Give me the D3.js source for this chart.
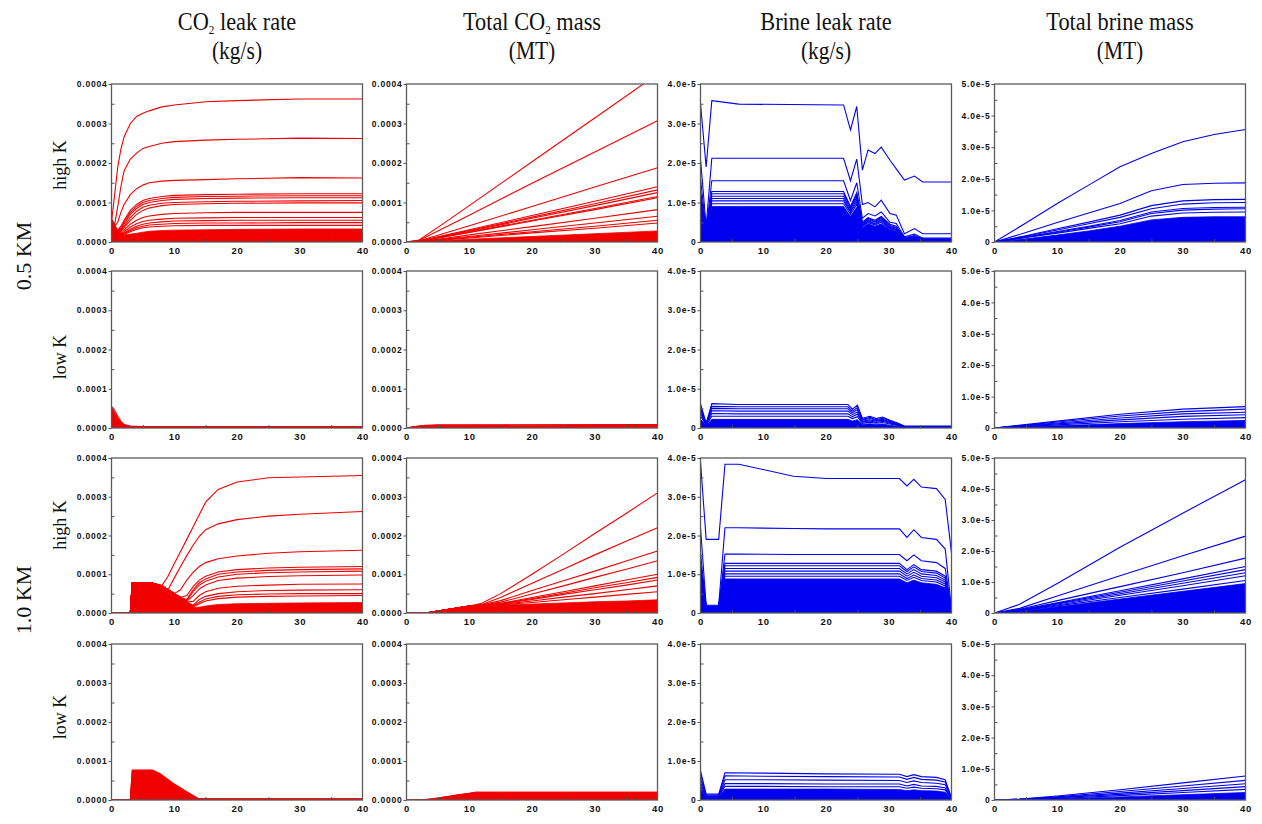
<!DOCTYPE html>
<html><head><meta charset="utf-8">
<script src="https://cdn.jsdelivr.net/npm/d3@7"></script>
<style>body{margin:0;background:#fff}</style>
</head><body><svg id="c" width="1262" height="824"></svg>
<script>
// ---------- labels ----------
const colTitles = [["CO","2"," leak rate"],["Total CO","2"," mass"],["Brine leak rate","",""],["Total brine mass","",""]];
const colUnits = ["(kg/s)","(MT)","(kg/s)","(MT)"];
const depthLabels = ["0.5 KM","1.0 KM"];
const permLabels = ["high K","low K","high K","low K"];
const xTicks = [0,10,20,30,40];
const xTickLabels = ["0","10","20","30","40"];
// values stored in units of 1e-4 (CO2) and 1e-5 (brine)
const yTicksCO2 = ["0.0000","0.0001","0.0002","0.0003","0.0004"];
const yTicksBrineRate = ["0","1.0e-5","2.0e-5","3.0e-5","4.0e-5"];
const yTicksBrineMass = ["0","1.0e-5","2.0e-5","3.0e-5","4.0e-5","5.0e-5"];

// ---------- row 1: 0.5 KM high K ----------
const tA = [0,0.5,1,1.5,2,3,4,5,6,8,10,15,20,30,40];
const linesA = [
 [0.5,1.2,1.9,2.35,2.66,3.0,3.18,3.26,3.32,3.42,3.47,3.55,3.58,3.62,3.62],
 [0.5,0.45,0.9,1.4,1.8,2.1,2.25,2.37,2.42,2.5,2.54,2.58,2.6,2.63,2.62],
 [0.5,0.4,0.5,0.75,0.95,1.2,1.35,1.44,1.5,1.54,1.56,1.58,1.6,1.63,1.62],
 [0.5,0.35,0.3,0.4,0.55,0.8,0.95,1.05,1.1,1.15,1.18,1.2,1.21,1.22,1.22],
 [0.5,0.35,0.28,0.35,0.5,0.75,0.9,1.0,1.05,1.1,1.13,1.15,1.16,1.17,1.17],
 [0.5,0.33,0.26,0.32,0.45,0.7,0.85,0.95,1.0,1.05,1.08,1.1,1.11,1.12,1.12],
 [0.5,0.32,0.25,0.3,0.4,0.62,0.78,0.88,0.93,0.98,1.0,1.02,1.03,1.04,1.05],
 [0.5,0.3,0.24,0.28,0.36,0.55,0.7,0.8,0.86,0.92,0.95,0.97,0.98,0.99,0.99],
 [0.5,0.3,0.22,0.25,0.3,0.45,0.55,0.62,0.66,0.7,0.72,0.74,0.75,0.75,0.75],
 [0.5,0.28,0.2,0.22,0.26,0.38,0.46,0.52,0.55,0.58,0.6,0.61,0.62,0.62,0.62],
 [0.5,0.27,0.19,0.2,0.23,0.32,0.4,0.45,0.48,0.51,0.53,0.54,0.55,0.55,0.55],
 [0.5,0.26,0.18,0.19,0.21,0.29,0.36,0.4,0.43,0.45,0.47,0.48,0.48,0.49,0.49],
 [0.5,0.25,0.17,0.18,0.2,0.26,0.32,0.36,0.38,0.4,0.41,0.42,0.42,0.42,0.42]
];
const bandA = [0.6,0.45,0.3,0.22,0.18,0.2,0.22,0.25,0.27,0.29,0.3,0.31,0.32,0.33,0.33];

const tB = [0,2,5,10,20,30,40];
const linesB = [
 [0,0.05,0.37,0.92,2.03,3.14,4.25],
 [0,0.04,0.28,0.68,1.49,2.28,3.07],
 [0,0.03,0.17,0.41,0.9,1.39,1.88],
 [0,0.02,0.13,0.31,0.67,1.03,1.4],
 [0,0.02,0.12,0.29,0.63,0.97,1.32],
 [0,0.02,0.11,0.27,0.6,0.92,1.25],
 [0,0.02,0.1,0.25,0.55,0.85,1.15],
 [0,0.02,0.1,0.24,0.53,0.82,1.12],
 [0,0.01,0.07,0.18,0.39,0.6,0.82],
 [0,0.01,0.06,0.14,0.31,0.48,0.65],
 [0,0.01,0.05,0.12,0.26,0.4,0.55],
 [0,0.01,0.04,0.1,0.23,0.35,0.48]
];
const bandB = [0,0.01,0.03,0.07,0.14,0.21,0.28];

const tC = [0,0.9,1.8,6.1,22.8,23.9,24.9,25.8,26.7,27.8,28.8,30.2,31.2,32.5,34.1,35.4,40];
const linesC = [
 [3.5,1.9,3.58,3.49,3.47,2.84,3.43,1.82,2.33,2.24,2.4,2.07,1.85,1.57,1.67,1.52,1.52],
 [2.1,0.4,2.12,2.12,2.12,1.55,2.1,0.95,1.0,0.89,1.06,0.72,0.68,0.21,0.34,0.21,0.21],
 [1.6,0.3,1.55,1.55,1.55,1.05,1.5,0.6,0.72,0.66,0.76,0.5,0.47,0.13,0.2,0.1,0.1],
 [1.3,0.25,1.28,1.28,1.28,0.9,1.25,0.5,0.62,0.55,0.65,0.45,0.4,0.1,0.16,0.08,0.08],
 [1.24,0.23,1.22,1.22,1.22,0.87,1.2,0.47,0.6,0.52,0.62,0.42,0.37,0.09,0.15,0.07,0.07],
 [1.18,0.22,1.16,1.16,1.16,0.83,1.14,0.45,0.57,0.5,0.59,0.4,0.35,0.08,0.14,0.07,0.07],
 [1.1,0.2,1.1,1.1,1.1,0.78,1.08,0.42,0.54,0.47,0.56,0.37,0.32,0.07,0.12,0.06,0.06],
 [1.04,0.19,1.04,1.04,1.04,0.75,1.02,0.41,0.52,0.45,0.54,0.35,0.31,0.06,0.11,0.05,0.05],
 [0.97,0.18,0.97,0.97,0.97,0.7,0.95,0.39,0.49,0.43,0.5,0.33,0.29,0.06,0.1,0.05,0.05]
];
const bandC = [0.9,0.15,0.9,0.9,0.9,0.65,0.88,0.36,0.46,0.4,0.46,0.31,0.27,0.05,0.09,0.04,0.04];

const tD = [0,5,10,15,20,25,30,35,40];
const linesD = [
 [0,0.6,1.22,1.8,2.38,2.8,3.17,3.4,3.56],
 [0,0.3,0.62,0.92,1.22,1.62,1.82,1.86,1.87],
 [0,0.2,0.42,0.63,0.85,1.15,1.3,1.34,1.35],
 [0,0.18,0.38,0.58,0.78,1.05,1.2,1.24,1.25],
 [0,0.16,0.33,0.5,0.68,0.95,1.06,1.09,1.1],
 [0,0.15,0.31,0.47,0.64,0.9,1.01,1.04,1.05],
 [0,0.14,0.28,0.43,0.58,0.82,0.92,0.94,0.95]
];
const bandD = [0,0.1,0.22,0.35,0.5,0.7,0.78,0.8,0.8];

// ---------- row 2: 0.5 KM low K ----------
const tE = [0,0.5,1,1.5,2,3,5,40];
const linesE = [
 [0.55,0.45,0.3,0.17,0.09,0.05,0.04,0.04],
 [0.45,0.35,0.23,0.13,0.07,0.04,0.03,0.03]
];
const bandE = [0.52,0.4,0.26,0.14,0.08,0.04,0.03,0.03];

const tF = [0,1,2,3,5,40];
const linesF = [[0,0.03,0.05,0.07,0.08,0.09]];
const bandF = [0,0.03,0.05,0.06,0.07,0.08];

const tG = [0,0.9,1.8,6,23.5,24.2,25,25.8,27,28,29,30.2,31.5,32.5,40];
const linesG = [
 [0.62,0.12,0.62,0.6,0.6,0.48,0.58,0.25,0.3,0.24,0.28,0.2,0.12,0.05,0.05],
 [0.55,0.11,0.55,0.54,0.54,0.43,0.52,0.22,0.27,0.21,0.25,0.18,0.1,0.04,0.04],
 [0.5,0.1,0.5,0.49,0.49,0.39,0.47,0.2,0.24,0.19,0.22,0.16,0.09,0.04,0.04],
 [0.44,0.09,0.44,0.43,0.43,0.34,0.41,0.17,0.21,0.17,0.2,0.14,0.08,0.03,0.03],
 [0.37,0.08,0.37,0.36,0.36,0.29,0.35,0.15,0.18,0.14,0.17,0.12,0.07,0.03,0.03],
 [0.3,0.07,0.3,0.3,0.3,0.24,0.29,0.12,0.15,0.12,0.14,0.1,0.06,0.02,0.02]
];
const bandG = [0.22,0.06,0.22,0.22,0.22,0.18,0.21,0.09,0.11,0.09,0.1,0.07,0.04,0.02,0.02];

const tH = [0,10,20,30,40];
const linesH = [
 [0,0.22,0.44,0.6,0.68],
 [0,0.19,0.38,0.52,0.6],
 [0,0.16,0.32,0.45,0.5],
 [0,0.13,0.26,0.37,0.42],
 [0,0.1,0.2,0.28,0.33]
];
const bandH = [0,0.07,0.14,0.2,0.24];

// ---------- row 3: 1.0 KM high K ----------
const tI = [0,3,3.3,6.5,8,9,10,11,12,13,14,15,17,20,25,30,40];
const linesI = [
 [0,0,0.77,0.77,0.7,0.95,1.27,1.59,1.9,2.22,2.54,2.86,3.19,3.38,3.49,3.51,3.55],
 [0,0,0.77,0.77,0.7,0.6,0.9,1.2,1.48,1.75,1.98,2.15,2.3,2.41,2.5,2.55,2.62],
 [0,0,0.77,0.77,0.7,0.6,0.5,0.6,0.85,1.05,1.2,1.3,1.4,1.47,1.54,1.58,1.62],
 [0,0,0.77,0.77,0.7,0.6,0.5,0.4,0.45,0.68,0.85,0.95,1.06,1.12,1.16,1.18,1.2],
 [0,0,0.77,0.77,0.7,0.6,0.5,0.4,0.35,0.6,0.78,0.88,1.0,1.06,1.1,1.12,1.14],
 [0,0,0.77,0.77,0.7,0.6,0.5,0.4,0.32,0.55,0.72,0.82,0.93,1.0,1.04,1.06,1.08],
 [0,0,0.77,0.77,0.7,0.6,0.5,0.4,0.3,0.45,0.62,0.72,0.84,0.9,0.94,0.96,0.98],
 [0,0,0.77,0.77,0.7,0.6,0.5,0.4,0.28,0.3,0.45,0.55,0.64,0.69,0.72,0.74,0.75],
 [0,0,0.77,0.77,0.7,0.6,0.5,0.4,0.28,0.2,0.35,0.43,0.5,0.55,0.58,0.59,0.6],
 [0,0,0.77,0.77,0.7,0.6,0.5,0.4,0.28,0.18,0.28,0.36,0.43,0.47,0.49,0.5,0.5],
 [0,0,0.77,0.77,0.7,0.6,0.5,0.4,0.28,0.16,0.24,0.31,0.37,0.41,0.43,0.44,0.45]
];
const bandI = [0,0,0.77,0.77,0.7,0.6,0.52,0.4,0.28,0.15,0.15,0.18,0.22,0.24,0.25,0.26,0.27];

const tJ = [0,3,5,8,10,12,15,20,25,30,35,40];
const linesJ = [
 [0,0,0.05,0.13,0.18,0.25,0.5,1.0,1.52,2.05,2.57,3.1],
 [0,0,0.05,0.13,0.18,0.22,0.4,0.77,1.13,1.5,1.85,2.2],
 [0,0,0.05,0.13,0.18,0.21,0.32,0.58,0.83,1.08,1.34,1.6],
 [0,0,0.05,0.13,0.18,0.2,0.28,0.49,0.7,0.92,1.13,1.35],
 [0,0,0.05,0.13,0.18,0.2,0.25,0.4,0.55,0.7,0.85,1.0],
 [0,0,0.05,0.13,0.18,0.2,0.24,0.37,0.51,0.65,0.78,0.92],
 [0,0,0.05,0.13,0.18,0.2,0.23,0.35,0.48,0.6,0.72,0.85],
 [0,0,0.05,0.13,0.18,0.2,0.22,0.31,0.41,0.5,0.6,0.7],
 [0,0,0.05,0.13,0.18,0.2,0.21,0.27,0.34,0.41,0.48,0.55]
];
const bandJ = [0,0,0.05,0.13,0.18,0.2,0.21,0.23,0.26,0.29,0.31,0.34];

const tK = [0,0.9,2.9,3.9,6.1,14.8,20.1,31.7,32.9,34,35.2,37.6,39,40];
const linesK = [
 [3.9,1.9,1.9,3.84,3.84,3.53,3.47,3.47,3.28,3.45,3.25,3.21,2.93,1.55],
 [2.2,0.2,0.2,2.2,2.2,2.18,2.17,2.17,1.95,2.15,1.95,1.9,1.65,0.1],
 [1.55,0.18,0.18,1.52,1.52,1.51,1.51,1.51,1.35,1.5,1.35,1.3,1.15,0.08],
 [1.3,0.17,0.17,1.28,1.28,1.28,1.28,1.28,1.12,1.25,1.12,1.08,0.95,0.06],
 [1.23,0.16,0.16,1.22,1.22,1.22,1.22,1.22,1.07,1.19,1.07,1.03,0.9,0.05],
 [1.16,0.15,0.15,1.15,1.15,1.15,1.15,1.15,1.01,1.12,1.01,0.97,0.85,0.05],
 [1.09,0.15,0.15,1.08,1.08,1.08,1.08,1.08,0.95,1.05,0.95,0.91,0.8,0.05],
 [1.02,0.15,0.15,1.01,1.01,1.01,1.01,1.01,0.89,0.98,0.89,0.85,0.75,0.04],
 [0.95,0.14,0.14,0.95,0.95,0.95,0.95,0.95,0.84,0.92,0.84,0.8,0.7,0.04]
];
const bandK = [0.88,0.13,0.13,0.88,0.88,0.88,0.88,0.88,0.78,0.85,0.78,0.74,0.65,0.03];

const tL = [0,4,10,20,30,40];
const linesL = [
 [0,0.28,0.95,2.12,3.22,4.3],
 [0,0.15,0.55,1.2,1.85,2.48],
 [0,0.12,0.4,0.85,1.3,1.77],
 [0,0.1,0.33,0.72,1.1,1.5],
 [0,0.09,0.31,0.67,1.03,1.4],
 [0,0.08,0.29,0.62,0.96,1.3],
 [0,0.08,0.26,0.57,0.88,1.2],
 [0,0.07,0.23,0.5,0.77,1.05]
];
const bandL = [0,0.05,0.2,0.45,0.7,0.95];

// ---------- row 4: 1.0 KM low K ----------
const tM = [0,3,3.3,6.5,7.7,9.8,12,13.8,14.5,40];
const linesM = [
 [0,0,0.77,0.77,0.68,0.43,0.21,0.04,0.03,0.03],
 [0,0,0.62,0.62,0.55,0.35,0.17,0.03,0.02,0.02],
 [0,0,0.5,0.5,0.45,0.29,0.14,0.03,0.02,0.02],
 [0,0,0.4,0.4,0.36,0.23,0.11,0.02,0.02,0.02],
 [0,0,0.28,0.28,0.25,0.16,0.08,0.02,0.01,0.01],
 [0,0,0.15,0.15,0.13,0.09,0.05,0.01,0.01,0.01]
];
const bandM = [0,0,0.76,0.76,0.67,0.42,0.2,0.04,0.02,0.02];

const tN = [0,3,5,7,8,10,11,40];
const linesN = [[0,0.01,0.05,0.1,0.13,0.17,0.2,0.2]];
const bandN = [0,0.01,0.05,0.1,0.13,0.17,0.2,0.2];

const tO = [0,0.9,2.9,3.9,10,20,31.7,32.9,34,35.2,37.6,39,40];
const linesO = [
 [0.75,0.15,0.15,0.7,0.69,0.67,0.66,0.6,0.65,0.6,0.58,0.52,0.05],
 [0.65,0.12,0.12,0.62,0.61,0.6,0.59,0.53,0.58,0.53,0.51,0.46,0.04],
 [0.55,0.1,0.1,0.52,0.52,0.51,0.5,0.45,0.49,0.45,0.43,0.39,0.03],
 [0.45,0.08,0.08,0.42,0.42,0.41,0.41,0.36,0.4,0.36,0.35,0.31,0.03],
 [0.36,0.07,0.07,0.35,0.35,0.34,0.34,0.3,0.33,0.3,0.29,0.26,0.02]
];
const bandO = [0.3,0.06,0.06,0.28,0.28,0.28,0.27,0.24,0.26,0.24,0.23,0.2,0.02];

const tP = [0,4,10,20,30,40];
const linesP = [
 [0,0.03,0.13,0.33,0.55,0.77],
 [0,0.02,0.1,0.27,0.45,0.63],
 [0,0.02,0.08,0.22,0.37,0.52],
 [0,0.01,0.07,0.18,0.3,0.43],
 [0,0.01,0.05,0.14,0.24,0.34]
];
const bandP = [0,0.01,0.04,0.1,0.17,0.24];

// ---------- layout ----------
const colX = [111.5, 406.5, 700.5, 994.5];
const panelW = 251;
const rowY = [84, 271, 458, 644];
const rowH = [158, 157, 155, 156];
const colYMax = [4, 4, 4, 5];
const colTickLabels = [yTicksCO2, yTicksCO2, yTicksBrineRate, yTicksBrineMass];
const colColor = ["#f00000", "#f00000", "#0000f0", "#0000f0"];

const panelData = [
 [tA,linesA,bandA],[tB,linesB,bandB],[tC,linesC,bandC],[tD,linesD,bandD],
 [tE,linesE,bandE],[tF,linesF,bandF],[tG,linesG,bandG],[tH,linesH,bandH],
 [tI,linesI,bandI],[tJ,linesJ,bandJ],[tK,linesK,bandK],[tL,linesL,bandL],
 [tM,linesM,bandM],[tN,linesN,bandN],[tO,linesO,bandO],[tP,linesP,bandP]
];

const svg = d3.select("#c");
const serif = "'Liberation Serif','Times New Roman',serif";

// column headers
colTitles.forEach((tt, c) => {
  const cx = colX[c] + panelW / 2;
  const g = svg.append("g").attr("transform", `translate(${cx},30) scale(0.86,1)`);
  const txt = g.append("text").attr("text-anchor", "middle")
    .attr("font-family", serif).attr("font-size", 26).attr("fill", "#111");
  txt.append("tspan").text(tt[0]);
  if (tt[1]) {
    txt.append("tspan").attr("dy", 4).attr("font-size", 13).text(tt[1]);
    txt.append("tspan").attr("dy", -4).text(tt[2]);
  }
  svg.append("g").attr("transform", `translate(${cx},59) scale(0.86,1)`)
    .append("text").attr("text-anchor", "middle")
    .attr("font-family", serif).attr("font-size", 25).attr("fill", "#111")
    .text(colUnits[c]);
});

// row labels
const depthY = [256, 600];
depthLabels.forEach((lab, i) => {
  svg.append("text").attr("transform", `translate(31,${depthY[i]}) rotate(-90)`)
    .attr("text-anchor", "middle").attr("font-family", serif).attr("font-size", 22)
    .attr("fill", "#111").text(lab);
});
const permY = [165, 357, 525, 717];
permLabels.forEach((lab, i) => {
  svg.append("text").attr("transform", `translate(66,${permY[i]}) rotate(-90)`)
    .attr("text-anchor", "middle").attr("font-family", serif).attr("font-size", 18)
    .attr("fill", "#111").text(lab);
});

const defs = svg.append("defs");

panelData.forEach((pd, k) => {
  const r = Math.floor(k / 4), c = k % 4;
  const [times, lines, band] = pd;
  const x0 = colX[c], y0 = rowY[r], h = rowH[r];
  const yMax = colYMax[c];
  const x = d3.scaleLinear().domain([0, 40]).range([x0, x0 + panelW]);
  const y = d3.scaleLinear().domain([0, yMax]).range([y0 + h, y0]);
  const color = colColor[c];

  const clipId = "clip" + k;
  defs.append("clipPath").attr("id", clipId)
    .append("rect").attr("x", x0).attr("y", y0).attr("width", panelW).attr("height", h);

  const g = svg.append("g").attr("clip-path", `url(#${clipId})`);
  const area = d3.area().x((d, i) => x(times[i])).y0(y(0)).y1(d => y(d));
  g.append("path").datum(band).attr("d", area).attr("fill", color).attr("stroke", color).attr("stroke-width", 0.8);
  const line = d3.line().x((d, i) => x(times[i])).y(d => y(d));
  g.selectAll("path.ln").data(lines).join("path").attr("class", "ln")
    .attr("d", line).attr("fill", "none").attr("stroke", color).attr("stroke-width", 1.1);

  // frame
  svg.append("rect").attr("x", x0).attr("y", y0).attr("width", panelW).attr("height", h)
    .attr("fill", "none").attr("stroke", "#5a5a5a").attr("stroke-width", 1.3);

  // y axis
  const labels = colTickLabels[c];
  const yMajor = d3.range(0, yMax + 1);
  const yAx = svg.append("g").attr("transform", `translate(${x0},0)`)
    .call(d3.axisLeft(y).tickValues(yMajor).tickFormat((d, i) => labels[i]).tickSize(3).tickPadding(1));
  const yMinor = d3.range(0.5, yMax, 1);
  const yAx2 = svg.append("g").attr("transform", `translate(${x0},0)`)
    .call(d3.axisLeft(y).tickValues(yMinor).tickFormat("").tickSize(-3));
  // x axis
  const xAx = svg.append("g").attr("transform", `translate(0,${y0 + h})`)
    .call(d3.axisBottom(x).tickValues(xTicks).tickFormat((d, i) => xTickLabels[i]).tickSize(0).tickPadding(5));
  const xAx2 = svg.append("g").attr("transform", `translate(0,${y0 + h})`)
    .call(d3.axisBottom(x).tickValues([5, 15, 25, 35]).tickFormat("").tickSize(-3));
  [yAx, yAx2, xAx, xAx2].forEach(a => {
    a.select(".domain").remove();
    a.selectAll("line").attr("stroke", "#555");
    a.selectAll("text").attr("font-family", "Arial, 'Liberation Sans', sans-serif")
      .attr("font-size", 8.5).attr("font-weight", "bold").attr("letter-spacing", "0.8px").attr("fill", "#111");
  });
  xAx.selectAll("text").attr("font-size", 9.5);
});
</script></body></html>
